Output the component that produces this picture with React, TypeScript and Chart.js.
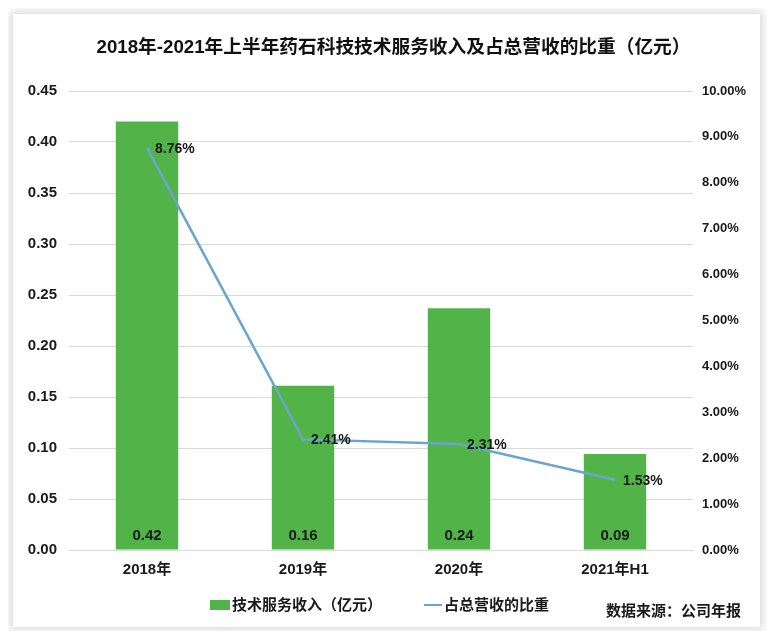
import React, { useEffect, useRef } from "react";
import { Chart, registerables } from "chart.js";

Chart.register(...registerables);

const categories = ["2018年", "2019年", "2020年", "2021年H1"];
const revenue = [0.42, 0.161, 0.237, 0.094];
const ratio = [8.76, 2.41, 2.31, 1.53];
const barLabels = ["0.42", "0.16", "0.24", "0.09"];
const ratioLabels = ["8.76%", "2.41%", "2.31%", "1.53%"];
const barName = "技术服务收入（亿元）";
const lineName = "占总营收的比重";
const title = "2018年-2021年上半年药石科技技术服务收入及占总营收的比重（亿元）";
const source = "数据来源：公司年报";

const FONT = '"Liberation Sans", "Noto Sans CJK SC", sans-serif';
const CJK = '"Noto Sans CJK SC", "Liberation Sans", sans-serif';
const GREEN = "#52b448";
const BLUE = "#69a5cc";

const labelPlugin = {
  id: "labels",
  afterDatasetsDraw(chart: any) {
    const ctx = chart.ctx;
    ctx.save();
    ctx.fillStyle = "#1a1a1a";
    ctx.font = `bold 15px ${FONT}`;
    const bars = chart.getDatasetMeta(0).data;
    ctx.textAlign = "center";
    ctx.textBaseline = "middle";
    bars.forEach((b: any, i: number) => {
      ctx.fillText(barLabels[i], b.x, chart.chartArea.bottom - 14);
    });
    ctx.font = `bold 14px ${FONT}`;
    const pts = chart.getDatasetMeta(1).data;
    ctx.textAlign = "left";
    pts.forEach((p: any, i: number) => {
      ctx.fillText(ratioLabels[i], p.x + 8, p.y + 1);
    });
    ctx.restore();
  },
};

export default function App() {
  const ref = useRef<HTMLCanvasElement>(null);
  useEffect(() => {
    const chart = new Chart(ref.current!, {
      type: "bar",
      data: {
        labels: categories,
        datasets: [
          {
            type: "bar",
            label: barName,
            data: revenue,
            backgroundColor: GREEN,
            yAxisID: "y",
            barPercentage: 0.8,
            categoryPercentage: 0.5,
            order: 2,
          },
          {
            type: "line",
            label: lineName,
            data: ratio,
            borderColor: BLUE,
            borderWidth: 2.5,
            pointRadius: 0,
            tension: 0,
            yAxisID: "y1",
            order: 1,
          } as any,
        ],
      },
      options: {
        responsive: false,
        animation: false,
        layout: { padding: { top: 91, bottom: 0, left: 0, right: 0 } },
        plugins: { legend: { display: false }, title: { display: false }, tooltip: { enabled: false } },
        scales: {
          x: {
            grid: { display: false, drawTicks: false },
            border: { color: "#d9d9d9" },
            ticks: { font: { family: FONT, size: 15, weight: "bold" }, color: "#1a1a1a", padding: 11 },
            afterFit: (s: any) => { s.height = 89; },
          },
          y: {
            position: "left",
            min: 0,
            max: 0.45,
            ticks: {
              stepSize: 0.05,
              font: { family: FONT, size: 15, weight: "bold" },
              color: "#1a1a1a",
              padding: 12,
              callback: (v: any) => Number(v).toFixed(2),
            },
            grid: { color: "#d9d9d9", drawTicks: false },
            border: { display: false },
            afterFit: (s: any) => { s.width = 69; },
          },
          y1: {
            position: "right",
            min: 0,
            max: 10,
            ticks: {
              stepSize: 1,
              font: { family: FONT, size: 13, weight: "bold" },
              color: "#1a1a1a",
              padding: 9,
              callback: (v: any) => Number(v).toFixed(2) + "%",
            },
            grid: { display: false, drawTicks: false },
            border: { display: false },
            afterFit: (s: any) => { s.width = 82; },
          },
        },
      },
      plugins: [labelPlugin],
    });
    return () => chart.destroy();
  }, []);

  return (
    <div style={{ position: "relative", width: 775, height: 639, margin: -8, background: "#fff", overflow: "hidden", fontFamily: FONT }}>
      <div style={{ position: "absolute", left: 13, top: 14, width: 747, height: 613, background: "#fff", boxShadow: "0 0 8px 3px rgba(0,0,0,0.14)" }} />
      <canvas ref={ref} width={775} height={639} style={{ position: "absolute", left: 0, top: 0 }} />
      <div style={{ position: "absolute", left: 6, width: 775, top: 34, textAlign: "center", fontSize: 18.7, fontWeight: "bold", color: "#111", lineHeight: "26px", whiteSpace: "nowrap" }}>{title}</div>
      <div style={{ position: "absolute", left: 210, top: 595, display: "flex", alignItems: "center", fontSize: 15, fontWeight: "bold", color: "#1a1a1a", lineHeight: "20px", whiteSpace: "nowrap" }}>
        <span style={{ display: "inline-block", width: 20, height: 10, background: GREEN, marginRight: 2 }} />
        <span>{barName}</span>
        <span style={{ display: "inline-block", width: 18, height: 2.5, background: BLUE, marginLeft: 42, marginRight: 2 }} />
        <span>{lineName}</span>
      </div>
      <div style={{ position: "absolute", left: 606, top: 600, fontSize: 15, fontWeight: "bold", color: "#1a1a1a", lineHeight: "20px", fontFamily: CJK, whiteSpace: "nowrap" }}>{source}</div>
    </div>
  );
}
